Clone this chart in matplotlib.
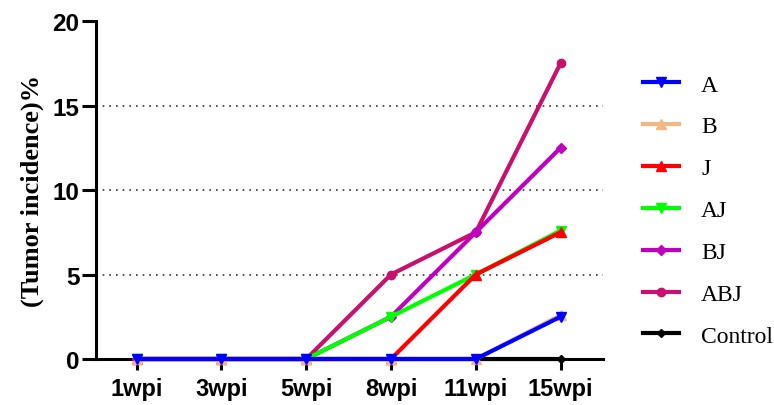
import matplotlib
matplotlib.use("Agg")
import matplotlib.pyplot as plt
import numpy as np

weeks = ["1wpi", "3wpi", "5wpi", "8wpi", "11wpi", "15wpi"]

groups = ["A", "B", "J", "AJ", "BJ", "ABJ", "Control"]
A = [0, 0, 0, 0, 0, 2.5]
B = [0, 0, 0, 0, 0, 2.6]
J = [0, 0, 0, 0, 5, 7.5]
AJ = [0, 0, 0, 2.5, 5, 7.6]
BJ = [0, 0, 0, 2.5, 7.5, 12.5]
ABJ = [0, 0, 0, 5, 7.5, 17.5]
Control = [0, 0, 0, 0, 0, 0]

series = [A, B, J, AJ, BJ, ABJ, Control]
colors = ["#0000FF", "#F2B884", "#FF0000", "#00FF00", "#BF00BF", "#C8106E", "#000000"]
markers = ["v", "^", "^", "v", "D", "o", "D"]
msizes = [7, 7, 7, 7, 5, 6, 4]

fig = plt.figure(figsize=(7.74, 4.06), dpi=100)
ax = fig.add_axes([0.124, 0.1133, 0.655, 0.8325])

x = np.arange(len(weeks))
lines = {}
# draw back to front so A ends up on top
for i in reversed(range(len(groups))):
    ln, = ax.plot(x, series[i], color=colors[i], lw=3, marker=markers[i],
                  ms=msizes[i], mec=colors[i], label=groups[i], zorder=3 + (7 - i),
                  clip_on=False)
    lines[groups[i]] = ln

for yv in [5, 10, 15]:
    ax.axhline(yv, color="#333333", lw=1.2, ls=(0, (1, 3)), zorder=1)

ax.set_xlim(-0.48, 5.5)
ax.set_ylim(0, 20)
ax.set_yticks([0, 5, 10, 15, 20])
ax.set_xticks(x)
ax.set_xticklabels(weeks)

for s in ["top", "right"]:
    ax.spines[s].set_visible(False)
for s in ["left", "bottom"]:
    ax.spines[s].set_linewidth(2.2)

ax.tick_params(axis="y", length=10, width=2.2, labelsize=17.5, pad=2)
ax.tick_params(axis="x", length=8, width=2.2, labelsize=17, pad=5)
for lab in ax.get_xticklabels() + ax.get_yticklabels():
    lab.set_fontfamily("Liberation Sans")
    lab.set_fontweight("bold")

ax.set_ylabel("(Tumor incidence)%", fontfamily="Liberation Serif",
              fontweight="bold", fontsize=19, labelpad=6)

handles = [lines[g] for g in groups]
fig.legend(handles, groups, loc="upper left", bbox_to_anchor=(0.831, 0.815),
           frameon=False, prop={"family": "Liberation Serif", "size": 17},
           handlelength=1.5, labelspacing=0.86, handletextpad=0.95,
           borderaxespad=0, borderpad=0)

fig.savefig("out.png", dpi=100)
